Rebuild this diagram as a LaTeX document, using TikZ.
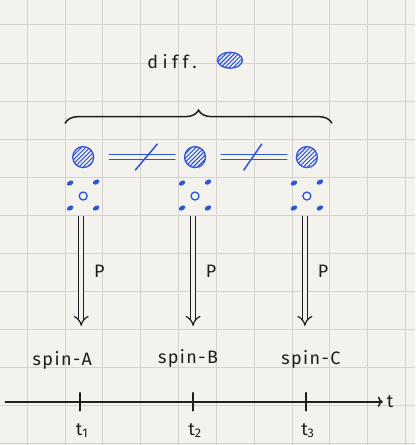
\documentclass[tikz,border=0pt]{standalone}
\usepackage{fontspec}
\setmainfont{Fira Sans}
\usetikzlibrary{arrows.meta,
                decorations.pathreplacing,
                patterns.meta,
                shapes.geometric}

\definecolor{paper}{HTML}{F4F2EC}
\definecolor{gridline}{HTML}{D2D2D0}
\definecolor{pencil}{HTML}{1E1E1E}
\definecolor{penblue}{HTML}{2D55D8}

\begin{document}
\begin{tikzpicture}[x=1pt, y=-1pt,
        ink/.style={draw=pencil, line width=1.5pt, line cap=round},
        blueink/.style={draw=penblue, line width=1.5pt, line cap=round},
        hatched/.style={circle, draw=penblue, line width=1.3pt, inner sep=0pt,
            minimum size=21pt, pattern={Lines[angle=45, distance=3pt, line width=1.1pt]},
            pattern color=penblue},
        spot/.style={ellipse, fill=penblue, inner sep=0pt, minimum width=7pt,
            minimum height=4.5pt, rotate=30},
        hole/.style={circle, draw=penblue, line width=1.3pt, inner sep=0pt, minimum size=8pt},
        handtext/.style={text=pencil, font=\fontsize{18}{20}\selectfont\addfontfeatures{LetterSpace=8}},
        flow/.style={draw=pencil, line width=1.2pt, double=paper, double distance=4pt,
            -{Implies}}]

    % paper
    \fill [paper] (0, 0) rectangle (415, 445);
    \foreach \k in {0,...,10}
        \draw [gridline, line width=0.6pt] (26.7+37.9*\k, 0) -- (26.7+37.9*\k, 445);
    \foreach \k in {0,...,11}
        \draw [gridline, line width=0.6pt] (0, 24.5+38.1*\k) -- (415, 24.5+38.1*\k);

    % diff. and brace
    \node [handtext, font=\fontsize{18}{20}\selectfont\addfontfeatures{LetterSpace=25}] (diff) at (172, 61) {diff.};
    \node [hatched, ellipse, minimum width=25pt, minimum height=16pt] (diffspin) at (230, 60) {};
    \coordinate (braceL) at (65, 123);
    \coordinate (braceR) at (332, 123);
    \draw [ink, decorate, decoration={brace, amplitude=13pt}] (braceL) -- (braceR);

    % spins
    \foreach \n/\x/\s in {1/83/A, 2/195/B, 3/307/C} {
        \node [hatched] (c\n) at (\x, 157) {};
        \node [spot] (d\n a) at (\x-13, 183) {};
        \node [spot] (d\n b) at (\x+13, 182) {};
        \node [spot] (d\n c) at (\x-13, 208) {};
        \node [spot] (d\n d) at (\x+13, 208) {};
        \node [hole] (h\n) at (\x, 196) {};
        \coordinate (src\n) at (\x-2, 216);
        \coordinate (dst\n) at (\x-2, 326);
        \draw [flow] (src\n) -- (dst\n) node [handtext, right=9pt, midway] (p\n) {P};
    }

    % not equal
    \draw [blueink, shorten <=15pt, shorten >=9pt] ([yshift=2.5pt]c1.east) -- ([yshift=2.5pt]c2.west);
    \draw [blueink, shorten <=15pt, shorten >=9pt] ([yshift=-2.5pt]c1.east) -- ([yshift=-2.5pt]c2.west);
    \path (c1) -- (c2) coordinate [pos=0.58] (ne1);
    \draw [blueink] ([shift={(11, -13)}]ne1) -- ([shift={(-11, 13)}]ne1);
    \draw [blueink, shorten <=15pt, shorten >=9pt] ([yshift=2.5pt]c2.east) -- ([yshift=2.5pt]c3.west);
    \draw [blueink, shorten <=15pt, shorten >=9pt] ([yshift=-2.5pt]c2.east) -- ([yshift=-2.5pt]c3.west);
    \path (c2) -- (c3) coordinate [pos=0.52] (ne2);
    \draw [blueink] ([shift={(9, -13)}]ne2) -- ([shift={(-9, 13)}]ne2);

    % spin labels
    \node [handtext] (spinA) at (62, 361) {spin-A};
    \node [handtext] (spinB) at (188, 359) {spin-B};
    \node [handtext] (spinC) at (311, 360) {spin-C};

    % time axis
    \coordinate (tstart) at (5, 402);
    \coordinate (tend) at (383, 402);
    \draw [ink, ->] (tstart) -- (tend) node [handtext, right] (taxis) {t};
    \foreach \n/\x in {1/80, 2/193, 3/306} {
        \coordinate (tick\n) at (\x, 402);
        \draw [ink] ([yshift=9pt]tick\n) -- ([yshift=-9pt]tick\n);
        \node [handtext] (t\n) at (\x+2, 431) {t\textsubscript{\n}};
    }
\end{tikzpicture}
\end{document}
